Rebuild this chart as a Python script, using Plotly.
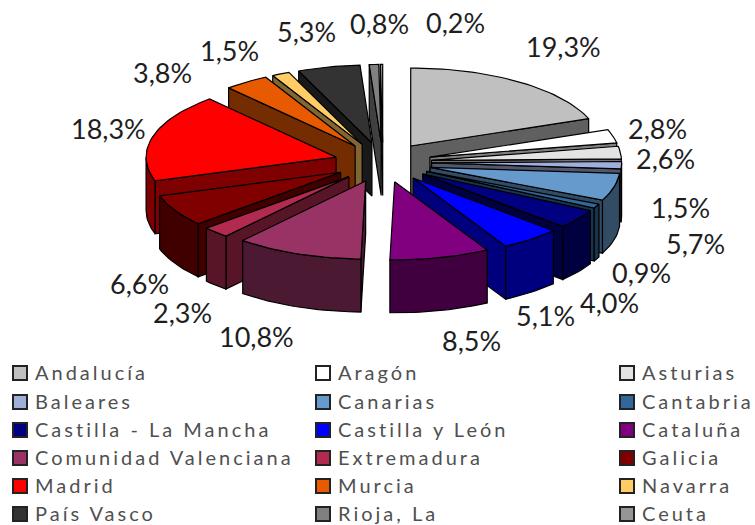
import math
import plotly.graph_objects as go

regions = ["Andalucía", "Aragón", "Asturias", "Baleares", "Canarias", "Cantabria",
           "Castilla - La Mancha", "Castilla y León", "Cataluña",
           "Comunidad Valenciana", "Extremadura", "Galicia",
           "Madrid", "Murcia", "Navarra", "País Vasco", "Rioja, La", "Ceuta"]
shares = [19.3, 2.8, 2.6, 1.5, 5.7, 0.9, 4.0, 5.1, 8.5, 10.8, 2.3, 6.6, 18.3, 3.8, 1.5, 5.3, 0.8, 0.2]
colors = ["#C0C0C0", "#FFFFFF", "#E3E3E3", "#A0AEDC", "#6699CC", "#336699",
          "#000080", "#0000FF", "#800080", "#993366", "#B22A50", "#800000",
          "#FF0000", "#E85A00", "#FFCC66", "#333333", "#808080", "#969696"]

# Layout only (pixel space of the 755x525 page)
CX, CY, RX, RY, DEPTH, EXPLODE = 383, 162.4, 190, 78, 53, 0.256
label_pos = [(563, 46), (657, 128), (665, 158), (680, 207), (695, 243), (641, 272),
             (609, 302), (545, 315), (471, 340), (256, 336), (182, 312), (139, 283),
             (108, 128), (162, 72), (229, 50), (306, 31), (379, 23), (455, 22)]
legend_x = [20, 323, 627]
legend_y = [373, 402, 430, 458, 486, 514]
text_dx = 15
text_dy = 2


def darker(hex_color, f=0.5):
    r, g, b = (int(hex_color[i:i + 2], 16) for i in (1, 3, 5))
    return f"rgb({int(r * f)},{int(g * f)},{int(b * f)})"


def pt(ax, ay, angle, radius=1.0, dy=0):
    return (ax + RX * radius * math.sin(angle), ay - RY * radius * math.cos(angle) + dy)


def poly(fig, pts, fill):
    xs = [p[0] for p in pts] + [pts[0][0]]
    ys = [p[1] for p in pts] + [pts[0][1]]
    fig.add_trace(go.Scatter(x=xs, y=ys, mode="lines", fill="toself", fillcolor=fill,
                             line=dict(color="#000000", width=1.2),
                             hoverinfo="skip", showlegend=False))


def arc(a, b, n_per_rad=30):
    n = max(2, int(abs(b - a) * n_per_rad) + 2)
    return [a + (b - a) * i / (n - 1) for i in range(n)]


total = sum(shares)
slices = []
acc = 0.0
for name, value, color in zip(regions, shares, colors):
    a = acc / total * 2 * math.pi
    acc += value
    b = acc / total * 2 * math.pi
    slices.append((a, b, color))

fig = go.Figure()
for a, b, color in sorted(slices, key=lambda s: -math.cos((s[0] + s[1]) / 2)):
    mid = (a + b) / 2
    ax = CX + EXPLODE * RX * math.sin(mid)
    ay = CY - EXPLODE * RY * math.cos(mid)
    wall = darker(color)
    if math.sin(a) < 0:  # start wall faces the viewer
        p = pt(ax, ay, a)
        poly(fig, [(ax, ay), p, (p[0], p[1] + DEPTH), (ax, ay + DEPTH)], wall)
    if math.sin(b) > 0:  # end wall faces the viewer
        p = pt(ax, ay, b)
        poly(fig, [(ax, ay), p, (p[0], p[1] + DEPTH), (ax, ay + DEPTH)], wall)
    lo, hi = max(a, math.pi / 2), min(b, 3 * math.pi / 2)
    if hi > lo:  # rim
        ang = arc(lo, hi)
        top = [pt(ax, ay, t) for t in ang]
        bottom = [pt(ax, ay, t, dy=DEPTH) for t in reversed(ang)]
        poly(fig, top + bottom, wall)
    poly(fig, [(ax, ay)] + [pt(ax, ay, t) for t in arc(a, b)], color)

# Legend, read row by row across three columns
sw_x = [legend_x[i % 3] for i in range(len(regions))]
sw_y = [legend_y[i // 3] for i in range(len(regions))]
fig.add_trace(go.Scatter(x=sw_x, y=sw_y, mode="markers", hoverinfo="skip", showlegend=False,
                         marker=dict(symbol="square", size=14, color=colors,
                                     line=dict(color="#222222", width=2))))
fig.add_trace(go.Scatter(x=[x + text_dx for x in sw_x], y=[y + text_dy for y in sw_y],
                         mode="text", text=regions,
                         textposition="middle right", hoverinfo="skip", showlegend=False,
                         textfont=dict(family="Lato", size=20, color="#505050")))

annotations = []
for value, (x, y) in zip(shares, label_pos):
    annotations.append(dict(x=x, y=y, text=f"{value:.1f}".replace(".", ",") + "%",
                            showarrow=False, xref="x", yref="y",
                            xanchor="center", yanchor="middle",
                            font=dict(family="Lato", size=27, color="#1E1E1E")))

fig.update_layout(width=755, height=525, margin=dict(l=0, r=0, t=0, b=0),
                  paper_bgcolor="white", plot_bgcolor="white",
                  annotations=annotations,
                  xaxis=dict(range=[0, 755], visible=False, fixedrange=True),
                  yaxis=dict(range=[525, 0], visible=False, fixedrange=True))

post = """
document.documentElement.style.margin='0';
document.body.style.margin='0';
document.querySelectorAll('.textpoint text').forEach(function(t){
  t.style.letterSpacing='3px';
});
"""
fig.write_html("out.html", post_script=post, config={"displayModeBar": False})
